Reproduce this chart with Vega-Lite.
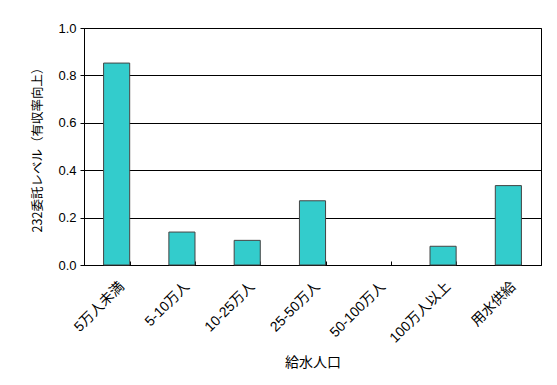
{
  "$schema": "https://vega.github.io/schema/vega-lite/v6.json",
  "autosize": {"type": "none"},
  "width": 457,
  "height": 237,
  "padding": {"left": 84, "top": 28, "right": 16, "bottom": 120},
  "background": "white",
  "config": {
    "view": {"stroke": "black", "strokeWidth": 1},
    "font": "Liberation Sans, Noto Sans CJK JP"
  },
  "data": {
    "values": [
      {"group": "5万人未満", "value": 0.852},
      {"group": "5-10万人", "value": 0.139},
      {"group": "10-25万人", "value": 0.104},
      {"group": "25-50万人", "value": 0.271},
      {"group": "50-100万人", "value": 0.0},
      {"group": "100万人以上", "value": 0.079},
      {"group": "用水供給", "value": 0.335}
    ]
  },
  "mark": {"type": "bar", "fill": "#33CCCC", "stroke": "#444444", "strokeWidth": 1},
  "encoding": {
    "x": {
      "field": "group",
      "type": "nominal",
      "sort": null,
      "scale": {"paddingInner": 0.6, "paddingOuter": 0.3},
      "axis": {
        "title": "給水人口",
        "titleFont": "Noto Sans CJK JP",
        "titleFontSize": 14,
        "titleFontWeight": "normal",
        "titleColor": "black",
        "titlePadding": 10,
        "labelAngle": -45,
        "labelFont": "Liberation Sans, Noto Sans CJK JP",
        "labelFontSize": 14,
        "labelColor": "black",
        "labelPadding": 18,
        "domainColor": "black",
        "tickColor": "black",
        "tickBand": "extent",
        "tickSize": -4
      }
    },
    "y": {
      "field": "value",
      "type": "quantitative",
      "scale": {"domain": [0, 1], "nice": false},
      "axis": {
        "title": "232委託レベル（有収率向上）",
        "titleFont": "Noto Sans CJK JP",
        "titleFontSize": 12.5,
        "titleFontWeight": "normal",
        "titleColor": "black",
        "titlePadding": 13,
        "values": [0, 0.2, 0.4, 0.6, 0.8, 1.0],
        "format": ".1f",
        "labelFont": "Liberation Sans",
        "labelFontSize": 13,
        "labelColor": "black",
        "labelPadding": 4,
        "tickSize": 4,
        "tickColor": "black",
        "domainColor": "black",
        "grid": true,
        "gridColor": "black",
        "gridOpacity": 1
      }
    },
    "strokeOpacity": {"condition": {"test": "datum.value == 0", "value": 0}, "value": 1}
  }
}
